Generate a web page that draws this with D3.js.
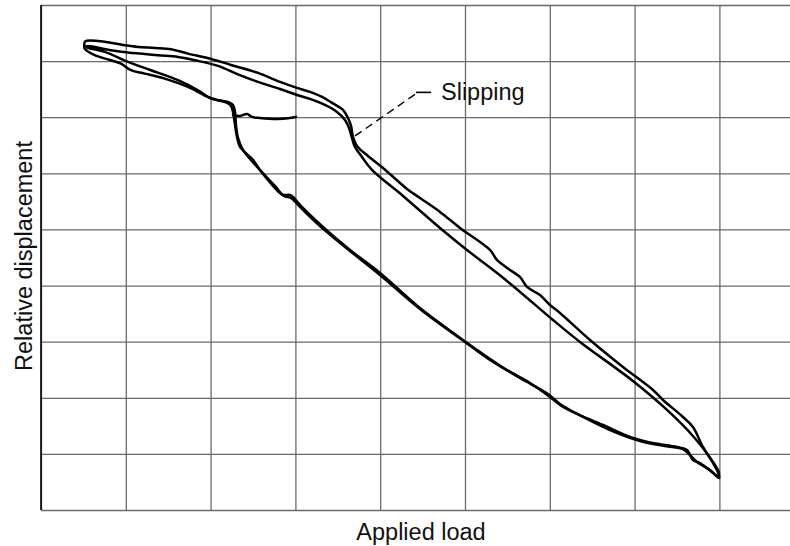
<!DOCTYPE html>
<html>
<head>
<meta charset="utf-8">
<script src="https://cdn.jsdelivr.net/npm/d3@7"></script>
<style>
  html, body { margin: 0; padding: 0; background: #fff; }
  svg { display: block; }
  text { font-family: "Liberation Sans", Arial, Helvetica, sans-serif; fill: #111; }
</style>
</head>
<body>
<script>
// ---- Data (load in grid units, relative displacement in grid units) ----
const xTicks = [0, 1, 2, 3, 4, 5, 6, 7, 8];
const yTicks = [0, 1, 2, 3, 4, 5, 6, 7, 8, 9];

// First cycle: upper branch then lower branch
const upper1 = [
  [0.511, 8.298], [0.522, 8.355], [0.672, 8.360], [0.987, 8.283], [1.144, 8.253],
  [1.341, 8.235], [1.533, 8.212], [1.733, 8.134], [2.005, 8.039], [2.241, 7.932],
  [2.559, 7.790], [2.818, 7.629], [3.019, 7.522],
  [3.172, 7.451], [3.314, 7.362], [3.432, 7.255], [3.561, 7.130], [3.620, 6.987],
  [3.656, 6.845], [3.679, 6.649], [3.726, 6.488], [3.856, 6.310], [4.033, 6.096],
  [4.316, 5.722], [4.469, 5.561], [4.705, 5.312], [4.941, 5.027], [5.295, 4.635],
  [5.377, 4.456], [5.531, 4.278], [5.648, 4.153], [5.731, 3.975], [5.884, 3.832],
  [6.002, 3.654], [6.120, 3.512], [6.474, 3.030], [6.863, 2.549], [7.217, 2.139],
  [7.335, 1.961], [7.570, 1.658], [7.688, 1.479], [7.806, 1.123], [7.924, 0.838],
  [7.995, 0.624]
];
const lower1 = [
  [7.995, 0.570], [7.924, 0.660], [7.771, 0.838], [7.688, 0.891], [7.618, 1.070],
  [7.500, 1.123], [7.217, 1.194], [6.981, 1.283], [6.627, 1.515], [6.156, 1.836],
  [6.002, 2.014], [5.766, 2.264], [5.495, 2.496], [5.177, 2.816], [4.976, 3.030],
  [4.469, 3.601], [3.998, 4.225], [3.644, 4.635], [3.325, 5.044], [3.054, 5.437],
  [2.972, 5.579], [2.936, 5.615], [2.854, 5.615], [2.818, 5.650], [2.582, 6.061],
  [2.500, 6.239], [2.347, 6.470], [2.311, 6.649], [2.288, 6.863], [2.264, 7.094],
  [2.241, 7.201], [2.182, 7.264], [2.087, 7.303], [1.969, 7.362], [1.733, 7.540],
  [1.459, 7.688], [1.223, 7.777], [1.061, 7.838], [0.943, 7.955], [0.825, 8.016],
  [0.633, 8.105], [0.515, 8.223], [0.511, 8.298]
];
// Second cycle
const upper2 = [
  [0.531, 8.262], [0.554, 8.271], [0.825, 8.194], [1.026, 8.152], [1.380, 8.105],
  [1.616, 8.075], [1.813, 8.016], [2.087, 7.914], [2.323, 7.763], [2.559, 7.629],
  [2.818, 7.504], [3.019, 7.397], [3.172, 7.326], [3.349, 7.219], [3.490, 7.094],
  [3.585, 6.952], [3.632, 6.809], [3.667, 6.631], [3.703, 6.470], [3.785, 6.292],
  [3.903, 6.061], [4.269, 5.597], [4.705, 5.027], [5.023, 4.635], [5.495, 4.082],
  [6.037, 3.387], [6.356, 2.995], [6.981, 2.299], [7.382, 1.783], [7.688, 1.319],
  [7.924, 0.856], [7.995, 0.660]
];
const lower2 = [
  [7.983, 0.606], [7.889, 0.713], [7.736, 0.856], [7.653, 0.980], [7.570, 1.087],
  [7.358, 1.141], [7.064, 1.230], [6.710, 1.426], [6.415, 1.640], [6.120, 1.889],
  [5.979, 2.068], [5.648, 2.353], [5.295, 2.674], [5.000, 2.995], [4.469, 3.583],
  [3.998, 4.189], [3.585, 4.688], [3.290, 5.062], [3.054, 5.401], [2.948, 5.561],
  [2.866, 5.597], [2.759, 5.775], [2.559, 6.096], [2.382, 6.417], [2.323, 6.631],
  [2.300, 6.845], [2.288, 7.094], [2.264, 7.219], [2.217, 7.264], [2.166, 7.285],
  [2.005, 7.332], [1.851, 7.481], [1.616, 7.660], [1.297, 7.838], [1.026, 7.986],
  [0.751, 8.164], [0.542, 8.245], [0.531, 8.262]
];
// Initial loading segment
const startLine = [
  [2.264, 7.041], [2.347, 7.023], [2.429, 7.059], [2.488, 7.005], [2.582, 6.987],
  [2.783, 6.970], [2.936, 6.987], [3.007, 7.005]
];
// Annotation
const noteLabel = "Slipping";
const leaderDashed = [[3.703, 6.667], [4.431, 7.429]];
const leaderSolid = [[4.421, 7.443], [4.601, 7.443]];
const notePos = [4.717, 7.308];
const xTitle = "Applied load";
const yTitle = "Relative displacement";

// ---- Layout ----
const W = 790, H = 546;
const mLeft = 41, mTop = 5, mBottom = 510, mRight = 790;
const xMax = (mRight - mLeft) / 84.8;
const x = d3.scaleLinear().domain([0, xMax]).range([mLeft, mRight]);
const y = d3.scaleLinear().domain([0, 9]).range([mBottom, mTop]);

const svg = d3.select("body").append("svg").attr("width", W).attr("height", H);

// Grid via axes
const gx = svg.append("g").attr("transform", `translate(0,${mBottom})`)
  .call(d3.axisBottom(x).tickValues(xTicks).tickSize(-(mBottom - mTop)).tickFormat(""));
const gy = svg.append("g").attr("transform", `translate(${mLeft},0)`)
  .call(d3.axisLeft(y).tickValues(yTicks).tickSize(-(mRight - mLeft)).tickFormat(""));
[gx, gy].forEach(g => {
  g.select(".domain").remove();
  g.selectAll(".tick line").attr("stroke", "#6a6a6a").attr("stroke-width", 1.3);
});
// Left axis line
svg.append("line").attr("x1", x(0)).attr("x2", x(0)).attr("y1", y(0)).attr("y2", y(9))
  .attr("stroke", "#000").attr("stroke-width", 1.6);

// Curves
const line = d3.line().x(d => x(d[0])).y(d => y(d[1])).curve(d3.curveCatmullRom.alpha(0.5));
const curves = [upper1.concat(lower1), upper2.concat(lower2), startLine];
svg.append("g").selectAll("path").data(curves).join("path")
  .attr("d", line).attr("fill", "none").attr("stroke", "#000")
  .attr("stroke-width", 2.5).attr("stroke-linejoin", "round").attr("stroke-linecap", "round");

// Annotation
const straight = d3.line().x(d => x(d[0])).y(d => y(d[1]));
svg.append("path").attr("d", straight(leaderDashed)).attr("fill", "none")
  .attr("stroke", "#000").attr("stroke-width", 1.4).attr("stroke-dasharray", "8,5");
svg.append("path").attr("d", straight(leaderSolid)).attr("fill", "none")
  .attr("stroke", "#000").attr("stroke-width", 1.6);
svg.append("text").attr("x", x(notePos[0])).attr("y", y(notePos[1]))
  .attr("font-size", 23.5).text(noteLabel);

// Axis titles
svg.append("text").attr("x", 421).attr("y", 540).attr("text-anchor", "middle")
  .attr("font-size", 23.5).text(xTitle);
svg.append("text").attr("transform", "translate(32,256) rotate(-90)")
  .attr("text-anchor", "middle").attr("font-size", 23.5).text(yTitle);
</script>
</body>
</html>
